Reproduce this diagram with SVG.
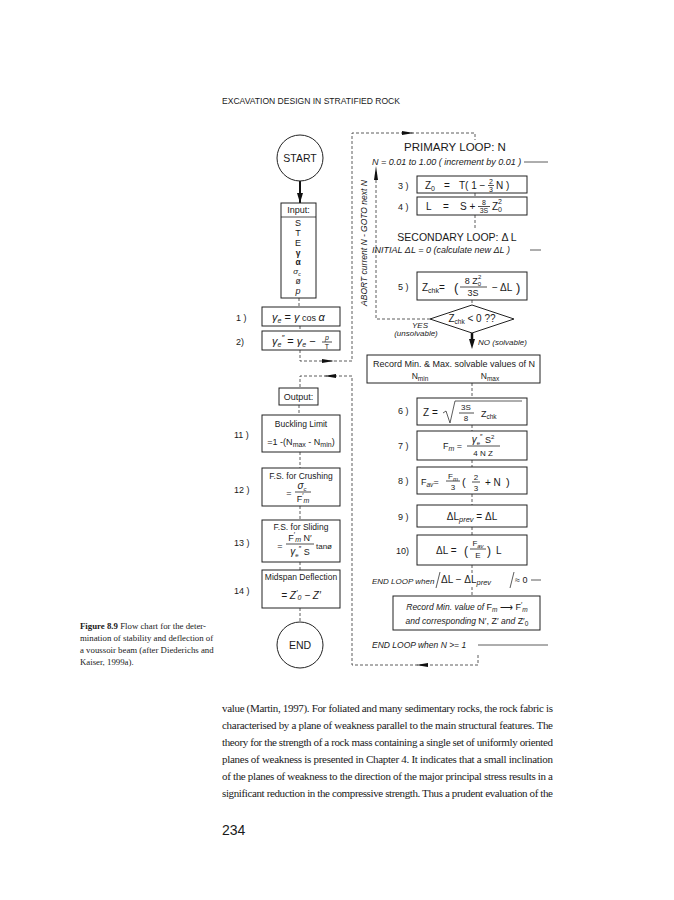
<svg xmlns="http://www.w3.org/2000/svg" width="674" height="900" viewBox="0 0 674 900">
<style>
svg{font-family:"Liberation Sans",Arial,sans-serif;font-size:10px}
text{fill:#1a1a1a}
.sf{font-family:"Liberation Serif","Times New Roman",serif}
.i{font-style:italic}
.m{text-anchor:middle}
.b{fill:#fff;stroke:#222;stroke-width:1}
.d{fill:none;stroke:#333;stroke-width:0.8;stroke-dasharray:3 2}
.s{fill:none;stroke:#333;stroke-width:0.8}
.fl{stroke:#222;stroke-width:0.8}
.ah{fill:#111}
</style>
<defs>
<marker id="arr" viewBox="0 0 10 6" refX="10" refY="3" markerWidth="10" markerHeight="6" markerUnits="userSpaceOnUse" orient="auto"><path d="M0,0 L10,3 L0,6 z" fill="#111"/></marker>
</defs>
<rect width="674" height="900" fill="#fff"/>

<text x="222" y="104" font-size="9.5" textLength="178" lengthAdjust="spacingAndGlyphs">EXCAVATION DESIGN IN STRATIFIED ROCK</text>

<g id="connectors">
  <line x1="300" y1="181" x2="300" y2="203" stroke="#111" stroke-width="2" marker-end="url(#arr)"/>
  <path class="d" d="M299,298 V307"/>
  <path class="d" d="M300,326 V331"/>
  <path class="d" d="M300,350 V361 H352 V133 H475 V140"/>
  <polygon class="ah" points="322,359 334,361 322,363"/>
  <polygon class="ah" points="402,131 414,133 402,135"/>
  <path class="d" d="M478,655 V665 H352 V376 H300 V388"/>
  <polygon class="ah" points="336,374 324,376 336,378"/>
  <polygon class="ah" points="428,663 416,665 428,667"/>
  <path class="d" d="M299,405 V415"/>
  <path class="d" d="M300,452 V468"/>
  <path class="d" d="M300,506 V520"/>
  <path class="d" d="M300,562 V570"/>
  <path class="d" d="M300,608 V622"/>
  <path class="d" d="M475,193 V197"/>
  <path class="d" d="M475,215 V228"/>
  <path class="d" d="M472,300 V305"/>
  <path class="d" d="M430,319 H376 V172"/>
  <polygon class="ah" points="374,180 376,166 378,180"/>
  <line x1="472" y1="333" x2="472" y2="341" stroke="#111" stroke-width="2.5"/>
  <polygon class="ah" points="469,339 475,339 472,349"/>
  <path class="d" d="M472,383 V398"/>
  <path class="d" d="M472,425 V431"/>
  <path class="d" d="M472,460 V467"/>
  <path class="d" d="M472,494 V505"/>
  <path class="d" d="M472,527 V535"/>
  <path class="d" d="M472,565 V573"/>
  <path class="d" d="M472,587 V596"/>
  <line class="s" x1="524" y1="162" x2="548" y2="162"/>
  <line class="s" x1="530" y1="250" x2="541" y2="250"/>
  <line class="s" x1="531" y1="580" x2="541" y2="580"/>
  <line class="s" x1="478" y1="645" x2="548" y2="645"/>
</g>

<g id="start">
  <circle class="b" cx="300" cy="158" r="23"/>
  <text x="300" y="162" class="m" font-size="10.5">START</text>
</g>

<g id="input">
  <rect class="b" x="281" y="203" width="35" height="95"/>
  <line class="fl" x1="281" y1="217" x2="316" y2="217"/>
  <text x="298.5" y="213" class="m" font-size="9">Input:</text>
  <text x="298" y="226" class="m" font-size="9">S</text>
  <text x="298" y="236" class="m" font-size="9">T</text>
  <text x="298" y="246" class="m" font-size="9">E</text>
  <text x="298" y="256" class="m" font-size="8.5" font-weight="bold">γ</text>
  <text x="298" y="265" class="m" font-size="8.5" font-weight="bold">α</text>
  <text x="297" y="274" class="m i" font-size="8">σ<tspan font-size="5" dy="1.5">c</tspan></text>
  <text x="298" y="284" class="m" font-size="8.5">ø</text>
  <text x="298" y="294" class="m i" font-size="9">p</text>
</g>

<g id="step1">
  <text x="236" y="321" font-size="9">1 )</text>
  <rect class="b" x="262" y="307" width="78" height="19"/>
  <text x="272" y="321" font-size="11" class="i">γ<tspan font-size="7" dy="2">e</tspan><tspan dy="-2" font-style="normal"> = </tspan><tspan font-size="11">γ</tspan><tspan font-size="9" font-style="normal"> cos </tspan><tspan font-size="11">α</tspan></text>
</g>

<g id="step2">
  <text x="236" y="345" font-size="9">2)</text>
  <rect class="b" x="262" y="331" width="78" height="19"/>
  <text x="272" y="345" font-size="11" class="i">γ<tspan font-size="7" dy="2">e</tspan><tspan font-size="8" dy="-7">″</tspan><tspan dy="5" font-style="normal"> = </tspan><tspan>γ</tspan><tspan font-size="7" dy="2">e</tspan><tspan dy="-2" font-style="normal"> − </tspan></text>
  <text x="327" y="340" class="m i" font-size="7">p</text>
  <line class="fl" x1="322" y1="342" x2="332" y2="342"/>
  <text x="327" y="349" class="m" font-size="7">T</text>
</g>

<g id="output">
  <rect class="b" x="279" y="388" width="39" height="17"/>
  <text x="298.5" y="400" class="m" font-size="9">Output:</text>
</g>

<g id="step11">
  <text x="234" y="438" font-size="9">11 )</text>
  <rect class="b" x="262" y="415" width="78" height="37"/>
  <text x="301" y="427" class="m" font-size="8.5">Buckling Limit</text>
  <text x="301" y="445" class="m" font-size="9">=1 -(N<tspan font-size="7" dy="2">max</tspan><tspan dy="-2"> - N</tspan><tspan font-size="7" dy="2">min</tspan><tspan dy="-2">)</tspan></text>
</g>

<g id="step12">
  <text x="234" y="493" font-size="9">12 )</text>
  <rect class="b" x="262" y="468" width="78" height="38"/>
  <text x="301" y="479" class="m" font-size="8.5">F.S. for Crushing</text>
  <text x="289" y="496" class="m" font-size="9">=</text>
  <text x="302" y="489" class="m i" font-size="10">σ<tspan font-size="6" dy="2">c</tspan></text>
  <line class="fl" x1="295" y1="492" x2="311" y2="492"/>
  <text x="303" y="502" class="m" font-size="9">F<tspan font-size="7" dy="-4">′</tspan><tspan font-size="7" dy="5" class="i">m</tspan></text>
</g>

<g id="step13">
  <text x="234" y="546" font-size="9">13 )</text>
  <rect class="b" x="262" y="520" width="78" height="42"/>
  <text x="301" y="530" class="m" font-size="8.5">F.S. for Sliding</text>
  <text x="280" y="549" class="m" font-size="9">=</text>
  <text x="300" y="541" class="m" font-size="9">F<tspan font-size="7" dy="-4">′</tspan><tspan font-size="7" dy="5" class="i">m</tspan><tspan dy="-1"> N′</tspan></text>
  <line class="fl" x1="286" y1="544" x2="314" y2="544"/>
  <text x="300" y="555" class="m" font-size="9"><tspan class="i" font-size="10">γ</tspan><tspan font-size="6" dy="2">e</tspan><tspan font-size="7" dy="-6">″</tspan><tspan dy="4"> S</tspan></text>
  <text x="316" y="549" font-size="8">tanø</text>
</g>

<g id="step14">
  <text x="234" y="594" font-size="9">14 )</text>
  <rect class="b" x="262" y="570" width="78" height="38"/>
  <text x="301" y="580" class="m" font-size="8.5">Midspan Deflection</text>
  <text x="301" y="599" class="m i" font-size="10">= Z<tspan font-size="8" dy="-4">′</tspan><tspan font-size="7" dy="5">0</tspan><tspan dy="-1"> − Z′</tspan></text>
</g>

<g id="end">
  <circle class="b" cx="300" cy="645" r="23"/>
  <text x="300" y="649" class="m" font-size="10.5">END</text>
</g>

<g id="primary-loop">
  <text x="455" y="151" class="m" font-size="11.5">PRIMARY LOOP: N</text>
  <text x="372" y="165" class="i" font-size="9">N = 0.01 to 1.00  ( increment by 0.01 )</text>
</g>

<g id="step3">
  <text x="398" y="189" font-size="9">3 )</text>
  <rect class="b" x="417" y="176" width="110" height="17"/>
  <text x="425" y="189">Z<tspan font-size="7" dy="2">0</tspan></text>
  <text x="444" y="189">=</text>
  <text x="459" y="189">T( 1 −</text>
  <text x="491" y="184" class="m" font-size="7">2</text>
  <line class="fl" x1="488" y1="185.5" x2="494" y2="185.5"/>
  <text x="491" y="192" class="m" font-size="7">3</text>
  <text x="496" y="189">N )</text>
</g>

<g id="step4">
  <text x="398" y="210" font-size="9">4 )</text>
  <rect class="b" x="417" y="197" width="110" height="18"/>
  <text x="426" y="210">L</text>
  <text x="443" y="210">=</text>
  <text x="460" y="210">S +</text>
  <text x="484" y="205" class="m" font-size="7">8</text>
  <line class="fl" x1="478" y1="206.5" x2="490" y2="206.5"/>
  <text x="484" y="213" class="m" font-size="7">3S</text>
  <text x="492" y="210">Z<tspan font-size="7" dy="2">0</tspan><tspan font-size="7" dx="-4" dy="-8">2</tspan></text>
</g>

<g id="secondary-loop">
  <text x="457" y="241" class="m" font-size="10.5">SECONDARY LOOP:  Δ L</text>
  <text x="372" y="253" class="i" font-size="9">INITIAL  ΔL = 0  (calculate new  ΔL )</text>
</g>

<g id="step5">
  <text x="398" y="290" font-size="9">5 )</text>
  <rect class="b" x="417" y="272" width="110" height="28"/>
  <text x="422" y="291">Z<tspan font-size="7" dy="2">chk</tspan><tspan dy="-2">=</tspan></text>
  <text x="454" y="292" font-size="13">(</text>
  <text x="473" y="284" class="m" font-size="9">8 Z<tspan font-size="6" dy="2">0</tspan><tspan font-size="6" dx="-3" dy="-7">2</tspan></text>
  <line class="fl" x1="460" y1="287" x2="487" y2="287"/>
  <text x="473" y="296" class="m" font-size="9">3S</text>
  <text x="492" y="291">− ΔL</text>
  <text x="516" y="292" font-size="13">)</text>
</g>

<g id="check">
  <polygon class="b" points="472,305 514,319 472,333 430,319"/>
  <text x="472" y="322" class="m" font-size="10">Z<tspan font-size="6.5" dy="2">chk</tspan><tspan dy="-2"> &lt; 0  ??</tspan></text>
  <text x="420" y="328" class="m i" font-size="8">YES</text>
  <text x="416" y="336" class="m i" font-size="8">(unsolvable)</text>
  <text x="478" y="345" class="i" font-size="8">NO (solvable)</text>
  <text x="367" y="243" class="m i" font-size="8.5" transform="rotate(-90 367 243)">ABORT current N - GOTO next N</text>
</g>

<g id="record-minmax">
  <rect class="b" x="367" y="355" width="173" height="28"/>
  <text x="454" y="367" class="m" font-size="9">Record Min. &amp; Max. solvable values of N</text>
  <text x="420" y="379" class="m" font-size="8.5">N<tspan font-size="6.5" dy="2">min</tspan></text>
  <text x="490" y="379" class="m" font-size="8.5">N<tspan font-size="6.5" dy="2">max</tspan></text>
</g>

<g id="step6">
  <text x="398" y="414" font-size="9">6 )</text>
  <rect class="b" x="417" y="398" width="110" height="27"/>
  <text x="423" y="416">Z =</text>
  <path class="s" d="M443,413 L446,411 L450,423 L455,401 L522,401"/>
  <text x="466" y="410" class="m" font-size="8">3S</text>
  <line class="fl" x1="459" y1="413" x2="474" y2="413"/>
  <text x="466" y="421" class="m" font-size="8">8</text>
  <text x="481" y="417" font-size="9">Z<tspan font-size="6.5" dy="2">chk</tspan></text>
</g>

<g id="step7">
  <text x="398" y="449" font-size="9">7 )</text>
  <rect class="b" x="417" y="431" width="110" height="29"/>
  <text x="443" y="449" font-size="9">F<tspan font-size="7" class="i" dy="2">m</tspan><tspan dy="-2"> =</tspan></text>
  <text x="483" y="443" class="m" font-size="9"><tspan class="i" font-size="10">γ</tspan><tspan font-size="6" dy="2">e</tspan><tspan font-size="7" dy="-6">″</tspan><tspan dy="4"> S</tspan><tspan font-size="6" dy="-4">2</tspan></text>
  <line class="fl" x1="467" y1="446" x2="500" y2="446"/>
  <text x="483" y="456" class="m" font-size="8">4 N Z</text>
</g>

<g id="step8">
  <text x="398" y="484" font-size="9">8 )</text>
  <rect class="b" x="417" y="467" width="110" height="27"/>
  <text x="421" y="485" font-size="9">F<tspan font-size="6.5" class="i" dy="2">av</tspan><tspan dy="-2">=</tspan></text>
  <text x="453" y="479" class="m" font-size="8">F<tspan font-size="6" class="i" dy="2">m</tspan></text>
  <line class="fl" x1="446" y1="481" x2="460" y2="481"/>
  <text x="453" y="490" class="m" font-size="8">3</text>
  <text x="462" y="486" font-size="11">(</text>
  <text x="476" y="480" class="m" font-size="8">2</text>
  <line class="fl" x1="472" y1="482" x2="480" y2="482"/>
  <text x="476" y="491" class="m" font-size="8">3</text>
  <text x="485" y="486" font-size="10">+  N</text>
  <text x="506" y="486" font-size="11">)</text>
</g>

<g id="step9">
  <text x="398" y="520" font-size="9">9 )</text>
  <rect class="b" x="417" y="505" width="110" height="22"/>
  <text x="472" y="520" class="m" font-size="10">ΔL<tspan font-size="7.5" class="i" dy="2">prev</tspan><tspan dy="-2"> = ΔL</tspan></text>
</g>

<g id="step10">
  <text x="396" y="554" font-size="9">10)</text>
  <rect class="b" x="417" y="535" width="110" height="30"/>
  <text x="436" y="554">ΔL =</text>
  <text x="464" y="555" font-size="12">(</text>
  <text x="478" y="546" class="m" font-size="8">F<tspan font-size="6" class="i" dy="2">av</tspan></text>
  <line class="fl" x1="470" y1="549" x2="486" y2="549"/>
  <text x="478" y="558" class="m" font-size="8">E</text>
  <text x="487" y="555" font-size="12">)</text>
  <text x="496" y="554">L</text>
</g>

<g id="endloop-dl">
  <text x="372" y="584" class="i" font-size="8">END LOOP when</text>
  <line class="s" x1="440" y1="572" x2="436" y2="588"/>
  <text x="441" y="583" font-size="10">ΔL − ΔL<tspan font-size="7.5" class="i" dy="2">prev</tspan></text>
  <line class="s" x1="514" y1="572" x2="510" y2="588"/>
  <text x="515" y="583" font-size="9">≈ 0</text>
</g>

<g id="record-min">
  <rect class="b" x="393" y="596" width="147" height="34"/>
  <text x="467" y="610" class="m i" font-size="8.5">Record Min. value of  <tspan font-style="normal" font-size="9">F<tspan font-size="6.5" class="i" dy="2">m</tspan><tspan dy="-2"> ⟶ F</tspan><tspan font-size="7" dy="-3">′</tspan><tspan font-size="6.5" class="i" dy="5">m</tspan></tspan></text>
  <text x="467" y="624" class="m i" font-size="8.5">and corresponding  <tspan font-style="normal" font-size="9">N′, Z′</tspan> and <tspan font-style="normal" font-size="9">Z′<tspan font-size="6.5" dy="2">0</tspan></tspan></text>
</g>

<g id="endloop-n">
  <text x="372" y="648" class="i" font-size="8.5">END LOOP when N &gt;= 1</text>
</g>

<g id="caption">
  <text class="sf" x="80" y="629" font-size="8.8"><tspan font-weight="bold">Figure 8.9</tspan>    Flow chart for the deter-</text>
  <text class="sf" x="80" y="641" font-size="8.8">mination of stability and deflection of</text>
  <text class="sf" x="80" y="653" font-size="8.8">a voussoir beam (after Diederichs and</text>
  <text class="sf" x="80" y="665" font-size="8.8">Kaiser, 1999a).</text>
</g>

<g id="body">
  <text class="sf" x="222" y="712" font-size="11" textLength="331" lengthAdjust="spacing">value (Martin, 1997). For foliated and many sedimentary rocks, the rock fabric is</text>
  <text class="sf" x="222" y="729" font-size="11" textLength="331" lengthAdjust="spacing">characterised by a plane of weakness parallel to the main structural features. The</text>
  <text class="sf" x="222" y="746" font-size="11" textLength="331" lengthAdjust="spacing">theory for the strength of a rock mass containing a single set of uniformly oriented</text>
  <text class="sf" x="222" y="763" font-size="11" textLength="331" lengthAdjust="spacing">planes of weakness is presented in Chapter 4. It indicates that a small inclination</text>
  <text class="sf" x="222" y="780" font-size="11" textLength="331" lengthAdjust="spacing">of the planes of weakness to the direction of the major principal stress results in a</text>
  <text class="sf" x="222" y="797" font-size="11" textLength="331" lengthAdjust="spacing">significant reduction in the compressive strength. Thus a prudent evaluation of the</text>
  <text x="222" y="835" font-size="14">234</text>
</g>
</svg>
